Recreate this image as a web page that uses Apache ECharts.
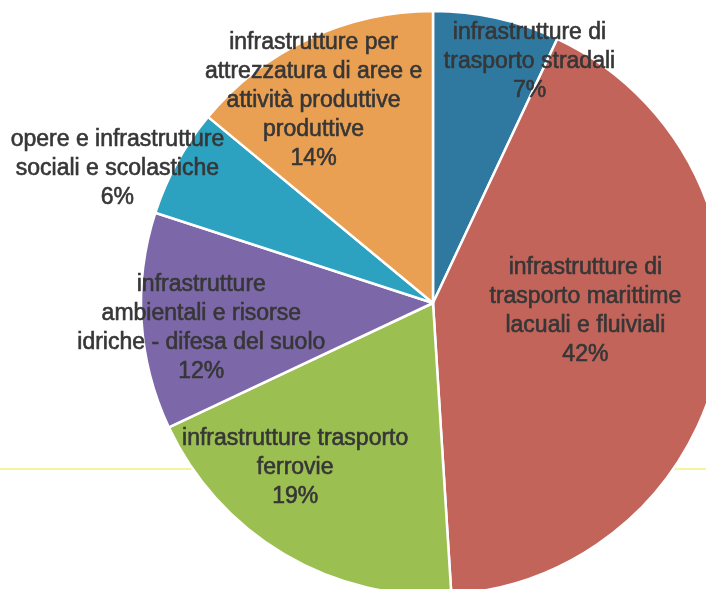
<!DOCTYPE html>
<html>
<head>
<meta charset="utf-8">
<script src="https://cdn.jsdelivr.net/npm/echarts@6/dist/echarts.min.js"></script>
<style>html,body{margin:0;padding:0;background:#fff}#c{width:706px;height:589px}</style>
</head>
<body>
<div id="c"></div>
<script>
const categories = [
  "infrastrutture di\ntrasporto stradali",
  "infrastrutture di\ntrasporto marittime\nlacuali e fluiviali",
  "infrastrutture trasporto\nferrovie",
  "infrastrutture\nambientali e risorse\nidriche - difesa del suolo",
  "opere e infrastrutture\nsociali e scolastiche",
  "infrastrutture per\nattrezzatura di aree e\nattività produttive\nproduttive"
];
const values = [7, 42, 19, 12, 6, 14];
const colors = ["#2f79a1", "#c2645a", "#9cbf52", "#7c68a8", "#2ca1c0", "#eaa052"];
const labelOffsets = [[64, -96], [6, -20], [-62, 36], [-83, 16], [-185, -63], [-56, -68]];

const chart = echarts.init(document.getElementById('c'));
chart.setOption({
  animation: false,
  graphic: [{
    type: 'line', z: -1,
    shape: { x1: 0, y1: 469, x2: 706, y2: 469 },
    style: { stroke: '#f2f27a', lineWidth: 1.5 }
  }],
  series: [{
    type: 'pie',
    center: [433, 303],
    radius: 292,
    startAngle: 90,
    clockwise: true,
    avoidLabelOverlap: false,
    labelLayout: { hideOverlap: false },
    itemStyle: { borderColor: '#fff', borderWidth: 2.5 },
    label: {
      show: true,
      position: 'inside',
      formatter: p => p.name + '\n' + p.value + '%',
      fontFamily: '"Liberation Sans", Arial, sans-serif',
      fontSize: 23,
      lineHeight: 29,
      color: '#363636',
      textBorderColor: '#363636',
      textBorderWidth: 0.6,
      align: 'center'
    },
    labelLine: { show: false },
    data: categories.map((n, i) => ({
      name: n, value: values[i],
      itemStyle: { color: colors[i] },
      label: { offset: labelOffsets[i] }
    }))
  }]
});
</script>
</body>
</html>
